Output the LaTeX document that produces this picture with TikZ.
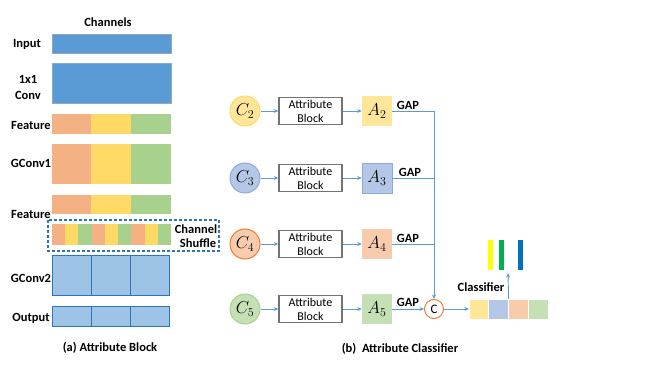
\documentclass[tikz,border=0pt]{standalone}
\usepackage{fontspec}
\setmainfont{Carlito}
\usetikzlibrary{arrows.meta}
\definecolor{bbar}{HTML}{5B9BD5}
\definecolor{bbarD}{HTML}{41719C}
\definecolor{cor}{HTML}{F4B183}
\definecolor{cye}{HTML}{FFD966}
\definecolor{cgr}{HTML}{A9D18E}
\definecolor{lbl}{HTML}{9DC3E6}
\definecolor{lblD}{HTML}{2E75B6}
\definecolor{lineb}{HTML}{5B9BD5}
\definecolor{pY}{HTML}{FFE699}
\definecolor{pB}{HTML}{B4C7E7}
\definecolor{pBd}{HTML}{8FAADC}
\definecolor{pO}{HTML}{F8CBAD}
\definecolor{pOd}{HTML}{ED7D31}
\definecolor{pG}{HTML}{C5E0B4}
\definecolor{vY}{HTML}{FFFF00}
\definecolor{vG}{HTML}{00B050}
\definecolor{vB}{HTML}{0070C0}
\begin{document}
\begin{tikzpicture}[x=1pt,y=-1pt,
  lab/.style={font=\fontsize{12.5}{13}\selectfont\bfseries, inner sep=0pt, align=center},
  txt/.style={font=\fontsize{12}{14}\selectfont, inner sep=0pt, align=center},
  conn/.style={draw=lineb, line width=0.9pt},
  arr/.style={conn, -{Stealth[length=4.5pt,width=4pt]}},
  cnode/.style={circle, minimum size=30pt, inner sep=0pt, line width=1pt, font=\fontsize{18}{18}\selectfont},
  abox/.style={draw=black!55, line width=1.3pt, fill=white, minimum width=63pt, minimum height=27pt, inner sep=0pt, txt},
  asq/.style={minimum size=30pt, inner sep=0pt, font=\fontsize{18}{18}\selectfont},
  seg/.style={minimum height=20pt, minimum width=19.75pt, inner sep=0pt, draw=white, line width=0.4pt}
]
\useasboundingbox (0,0) rectangle (664,374);
% ---------- (a) Attribute Block ----------
\node[lab] (chan) at (108,22) {Channels};
\node[lab] (lin) at (27,44) {Input};
\fill[bbar, draw=bbarD!60, line width=0.4pt] (52,34) rectangle (171,53);
\node[lab, align=center] (lconv) at (28,87) {1x1\\[3pt]Conv};
\fill[bbar, draw=bbarD!60, line width=0.4pt] (52,63) rectangle (171,103);
\node[lab] (lfeat) at (31,125) {Feature};
\fill[cor] (52,114) rectangle (91,134);
\fill[cye] (91,114) rectangle (131,134);
\fill[cgr] (131,114) rectangle (171,134);
\node[lab] (lg1) at (31,163) {GConv1};
\fill[cor] (52,144) rectangle (91,184);
\fill[cye] (91,144) rectangle (131,184);
\fill[cgr] (131,144) rectangle (171,184);
\fill[cor] (52,195) rectangle (91,214);
\fill[cye] (91,195) rectangle (131,214);
\fill[cgr] (131,195) rectangle (171,214);
\node[lab] (lfeat2) at (31,214) {Feature};
% shuffle
\foreach \i/\c in {0/cor,1/cye,2/cgr,3/cor,4/cye,5/cgr,6/cor,7/cye,8/cgr}{
  \fill[\c] ({52+\i*13.22},224) rectangle ({52+(\i+1)*13.22},245);
}
\draw[lblD, line width=1.2pt, dash pattern=on 3pt off 2pt] (48,220) rectangle (219,251);
\node[lab] (lch) at (196,229) {Channel};
\node[lab] (lsh) at (198,243) {Shuffle};
\node[lab] (lg2) at (31,278) {GConv2};
\fill[lbl] (52,255) rectangle (169,295);
\draw[lblD, line width=0.6pt] (52,255) rectangle (169,295) (91,255) -- (91,295) (130,255) -- (130,295);
\node[lab] (lout) at (31,318) {Output};
\fill[lbl] (52,306) rectangle (169,326);
\draw[lblD, line width=0.6pt] (52,306) rectangle (169,326) (91,306) -- (91,326) (130,306) -- (130,326);
\node[lab] (capa) at (110,348) {(a) Attribute Block};
% ---------- (b) Attribute Classifier ----------
\node[cnode, fill=pY, draw=cye] (c2) at (245,111) {$C_2$};
\node[cnode, fill=pB, draw=pBd] (c3) at (245,178) {$C_3$};
\node[cnode, fill=pO, draw=pOd] (c4) at (245,244) {$C_4$};
\node[cnode, fill=pG, draw=cgr] (c5) at (245,309) {$C_5$};
\foreach \r/\y in {2/111,3/178,4/244,5/309}{
  \node[abox] (ab\r) at (310.5,\y) {Attribute\\Block};
}
\node[asq, fill=pY] (a2) at (377,111) {$A_2$};
\node[asq, fill=pB, draw=pBd, line width=0.6pt] (a3) at (377,178) {$A_3$};
\node[asq, fill=pO] (a4) at (377,244) {$A_4$};
\node[asq, fill=pG] (a5) at (377,309) {$A_5$};
\foreach \r in {2,3,4,5}{
  \draw[arr] (c\r) -- (ab\r);
  \draw[arr] (ab\r) -- (a\r);
}
\node[cnode, minimum size=19pt, draw=pOd, fill=white, font=\fontsize{13}{13}\selectfont] (cat) at (434,309) {C};
\coordinate (j2) at (cat.north |- a2);
\coordinate (j3) at (cat.north |- a3);
\coordinate (j4) at (cat.north |- a4);
\draw[conn] (a2.east) -- (j2);
\draw[conn] (a3.east) -- (j3);
\draw[conn] (a4.east) -- (j4);
\draw[arr] (j2) -- (cat.north);
\draw[arr] (a5.east) -- (cat.west);
\node[lab] (g2) at (408,105) {GAP};
\node[lab] (g3) at (410,172) {GAP};
\node[lab] (g4) at (408,238) {GAP};
\node[lab] (g5) at (408,302) {GAP};
% classifier
\node[seg, fill=pY] (k1) at (479,309) {};
\node[seg, fill=pB] (k2) at (498.5,309) {};
\node[seg, fill=pO] (k3) at (518,309) {};
\node[seg, fill=pG] (k4) at (538,309) {};
\draw[arr] (cat.east) -- (k1.west);
\coordinate (kt) at (k2.north east);
\coordinate (kup) at (508,273);
\draw[arr] (kt) -- (kup);
\node[lab] (lcls) at (481,287) {Classifier};
\fill[vY] (487.5,240) rectangle (492.5,270);
\fill[vG] (498.5,240) rectangle (503.5,270);
\fill[vB] (517.5,240) rectangle (522.5,270);
\node[lab] (capb) at (400,349) {(b)\ \ Attribute Classifier};
\end{tikzpicture}
\end{document}
